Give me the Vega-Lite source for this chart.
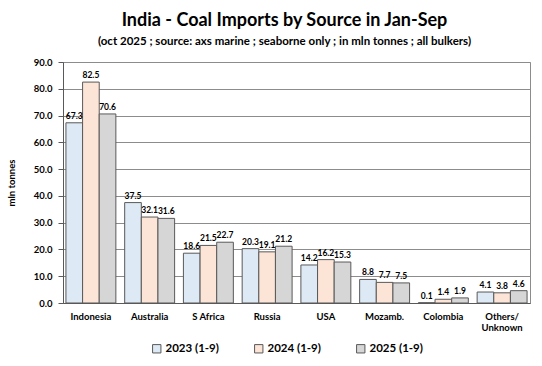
{
  "$schema": "https://vega.github.io/schema/vega-lite/v6.json",
  "width": 467,
  "height": 241,
  "autosize": "none",
  "padding": {"left": 63, "top": 62, "right": 12, "bottom": 63},
  "background": "white",
  "config": {
    "font": "Lato",
    "view": {"stroke": "#8c8c8c", "strokeWidth": 1}
  },
  "title": {
    "text": "India - Coal Imports by Source in Jan-Sep",
    "subtitle": "(oct 2025 ; source: axs marine ; seaborne only ; in mln tonnes ; all bulkers)",
    "fontSize": 18,
    "fontWeight": "bold",
    "subtitleFontSize": 11.5,
    "subtitleFontWeight": "bold",
    "subtitleColor": "#000",
    "color": "#000",
    "anchor": "middle",
    "dx": -12,
    "offset": 10,
    "subtitlePadding": 6
  },
  "data": {
    "values": [
      {"country": "Indonesia", "year": "2023 (1-9)", "value": 67.3},
      {"country": "Indonesia", "year": "2024 (1-9)", "value": 82.5},
      {"country": "Indonesia", "year": "2025 (1-9)", "value": 70.6},
      {"country": "Australia", "year": "2023 (1-9)", "value": 37.5},
      {"country": "Australia", "year": "2024 (1-9)", "value": 32.1},
      {"country": "Australia", "year": "2025 (1-9)", "value": 31.6},
      {"country": "S Africa", "year": "2023 (1-9)", "value": 18.6},
      {"country": "S Africa", "year": "2024 (1-9)", "value": 21.5},
      {"country": "S Africa", "year": "2025 (1-9)", "value": 22.7},
      {"country": "Russia", "year": "2023 (1-9)", "value": 20.3},
      {"country": "Russia", "year": "2024 (1-9)", "value": 19.1},
      {"country": "Russia", "year": "2025 (1-9)", "value": 21.2},
      {"country": "USA", "year": "2023 (1-9)", "value": 14.2},
      {"country": "USA", "year": "2024 (1-9)", "value": 16.2},
      {"country": "USA", "year": "2025 (1-9)", "value": 15.3},
      {"country": "Mozamb.", "year": "2023 (1-9)", "value": 8.8},
      {"country": "Mozamb.", "year": "2024 (1-9)", "value": 7.7},
      {"country": "Mozamb.", "year": "2025 (1-9)", "value": 7.5},
      {"country": "Colombia", "year": "2023 (1-9)", "value": 0.1},
      {"country": "Colombia", "year": "2024 (1-9)", "value": 1.4},
      {"country": "Colombia", "year": "2025 (1-9)", "value": 1.9},
      {"country": "Others/Unknown", "year": "2023 (1-9)", "value": 4.1},
      {"country": "Others/Unknown", "year": "2024 (1-9)", "value": 3.8},
      {"country": "Others/Unknown", "year": "2025 (1-9)", "value": 4.6}
    ]
  },
  "encoding": {
    "x": {
      "field": "country",
      "type": "nominal",
      "sort": ["Indonesia", "Australia", "S Africa", "Russia", "USA", "Mozamb.", "Colombia", "Others/Unknown"],
      "scale": {"paddingInner": 0.15, "paddingOuter": 0.05},
      "axis": {
        "title": null,
        "labelAngle": 0,
        "labelFontWeight": "bold",
        "labelFontSize": 9.5,
        "labelColor": "#000",
        "labelPadding": 8,
        "ticks": false,
        "domainColor": "#595959",
        "labelExpr": "datum.label == 'Others/Unknown' ? ['Others/', 'Unknown'] : datum.label"
      }
    },
    "xOffset": {
      "field": "year",
      "type": "nominal",
      "sort": ["2023 (1-9)", "2024 (1-9)", "2025 (1-9)"]
    },
    "y": {
      "field": "value",
      "type": "quantitative",
      "scale": {"domain": [0, 90], "nice": false},
      "axis": {
        "title": "mln tonnes",
        "titleFontWeight": "bold",
        "titleFontSize": 9.5,
        "titleColor": "#000",
        "titlePadding": 17,
        "values": [0, 10, 20, 30, 40, 50, 60, 70, 80, 90],
        "labelOverlap": false,
        "format": ".1f",
        "labelFontWeight": "bold",
        "labelFontSize": 9.5,
        "labelColor": "#000",
        "labelPadding": 6,
        "gridColor": "#8c8c8c",
        "gridWidth": 1,
        "tickColor": "#595959",
        "tickSize": 5,
        "domainColor": "#595959"
      }
    }
  },
  "layer": [
    {
      "mark": {"type": "bar", "stroke": "#595959", "strokeWidth": 1},
      "encoding": {
        "fill": {
          "field": "year",
          "type": "nominal",
          "scale": {
            "domain": ["2023 (1-9)", "2024 (1-9)", "2025 (1-9)"],
            "range": ["#dde9f5", "#fce4d6", "#d6d6d6"]
          },
          "legend": {
            "title": null,
            "orient": "none",
            "legendX": 88,
            "legendY": 281,
            "direction": "horizontal",
            "symbolType": "square",
            "symbolSize": 70,
            "symbolStrokeColor": "#595959",
            "symbolStrokeWidth": 1,
            "labelFontWeight": "bold",
            "labelFontSize": 11.5,
            "labelColor": "#000",
            "columnPadding": 33,
            "labelOffset": 3
          }
        }
      }
    },
    {
      "mark": {"type": "text", "dy": -7, "fontWeight": "bold", "fontSize": 8.5, "color": "#000"},
      "encoding": {
        "text": {"field": "value", "type": "quantitative", "format": ".1f"}
      }
    }
  ]
}
